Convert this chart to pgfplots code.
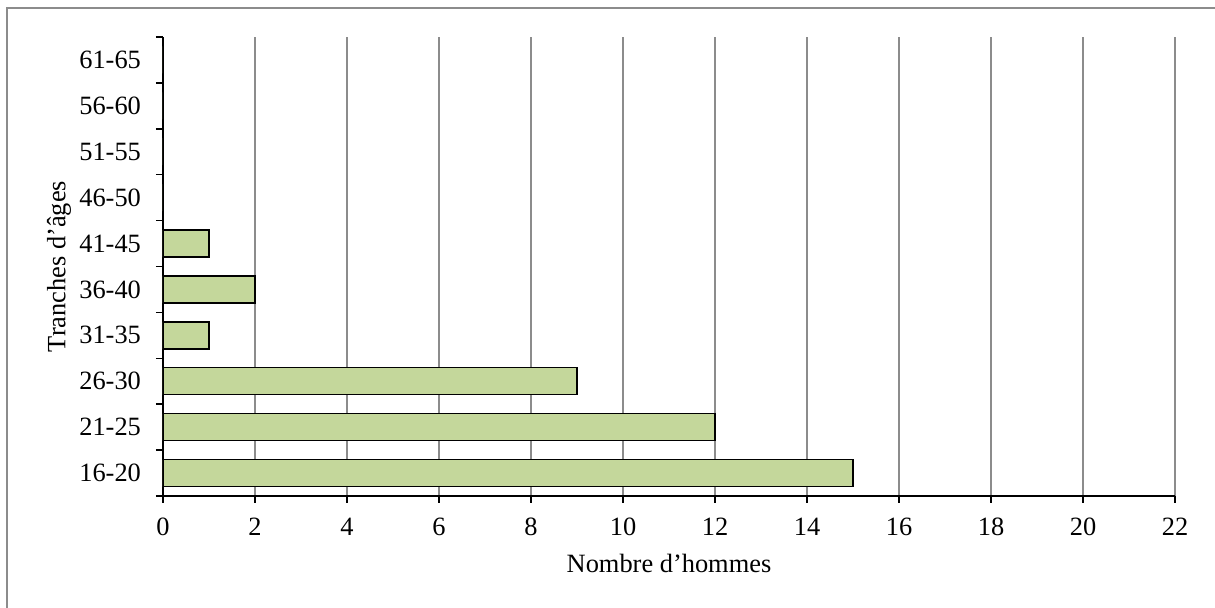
\documentclass[border=0pt]{standalone}
\usepackage{pgfplots}
\pgfplotsset{compat=1.18}
\usepackage{fontspec}
\setmainfont{Liberation Serif}
\definecolor{barfill}{HTML}{C4D79B}
\definecolor{gridgray}{HTML}{8C8C8C}
\definecolor{framegray}{HTML}{8C8C8C}
\newcommand{\chartfont}{\fontsize{13.2pt}{15pt}\selectfont}

\begin{document}
\begin{tikzpicture}
    % picture size: 1215 x 608 px at 0.5pt per px, axis box lower left at (0,0)
    \useasboundingbox (-81.5pt,-56pt) rectangle (526pt,248pt);
    \draw[framegray, line width=0.75pt] (-78pt,-56pt) -- (-78pt,244pt) -- (526pt,244pt);
    \begin{axis}[
            xbar,
            scale only axis,
            width=506pt,
            height=229.5pt,
            bar width=13.5pt,
            xmin=0, xmax=22,
            xtick={0,2,...,22},
            ymin=-0.5, ymax=9.5,
            ytick={0,...,9},
            yticklabels={16-20,21-25,26-30,31-35,36-40,41-45,46-50,51-55,56-60,61-65},
            minor ytick={-0.5,0.5,...,9.5},
            axis x line=bottom,
            axis y line=left,
            axis line style={-, line width=0.75pt, black},
            tick align=outside,
            major tick length=3.5pt,
            minor tick length=3.5pt,
            every tick/.style={black, line width=0.75pt},
            every major y tick/.style={draw=none},
            every minor y tick/.style={black, line width=0.75pt},
            xmajorgrids,
            major grid style={gridgray, line width=0.75pt},
            /pgf/number format/assume math mode=true,
            tick label style={font=\chartfont},
            label style={font=\chartfont},
            xticklabel style={yshift=-4pt},
            yticklabel style={xshift=-4pt},
            xlabel={Nombre d’hommes},
            ylabel={Tranches d’âges},
            xlabel style={at={(rel axis cs:0.5,0)}, anchor=center, yshift=-33.5pt},
            ylabel style={at={(rel axis cs:0,0.5)}, anchor=center, yshift=52pt},
        ]
        \addplot[fill=barfill, draw=black, line width=0.75pt]
            coordinates {(15,0) (12,1) (9,2) (1,3) (2,4) (1,5) (0,6) (0,7) (0,8) (0,9)};
    \end{axis}
\end{tikzpicture}
\end{document}
